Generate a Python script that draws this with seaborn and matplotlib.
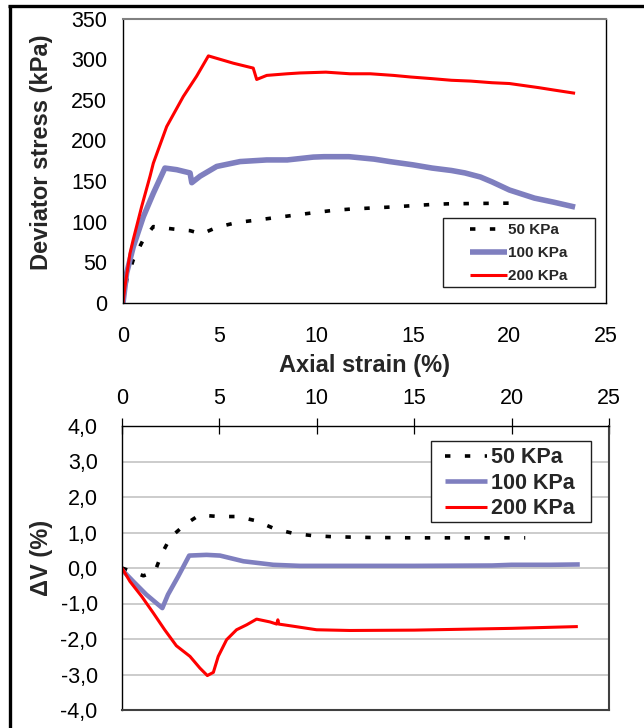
import numpy as np
import pandas as pd
import matplotlib
matplotlib.use("Agg")
import matplotlib.pyplot as plt
import seaborn as sns
from matplotlib.lines import Line2D
from matplotlib.patches import Rectangle
from matplotlib.ticker import FuncFormatter

# ---------------- data ----------------
labels = ["50 KPa", "100 KPa", "200 KPa"]

# Deviator stress vs axial strain
s50_x = [0, 0.19, 0.53, 1.05, 1.57, 2.6, 3.47, 4.07, 4.85, 5.88, 6.92, 7.87, 9.85, 10.9, 11.75, 13.8, 15.85, 16.8, 18.5, 20.7]
s50_y = [0, 28, 53, 78, 94, 91, 89, 85, 93, 99, 102, 105, 111, 114, 115.5, 118, 121, 122, 122.5, 123]

s100_x = [0, 0.19, 0.53, 1.05, 1.57, 2.17, 2.78, 3.47, 3.56, 3.99, 4.85, 6.06, 7.44, 8.5, 9.85, 10.4, 11.7, 13.0, 13.8, 15.0, 16.0, 17.0, 17.7, 18.5, 19.1, 20.0, 21.3, 22.3, 23.4]
s100_y = [0, 37, 69, 106, 135, 166, 164, 160, 148, 156, 168, 174, 176, 176, 179.5, 180, 180, 177, 174, 170, 166, 163, 160, 155, 149, 139, 129, 124, 118]

s200_x = [0, 0.1, 0.36, 0.53, 0.97, 1.4, 1.57, 2.26, 3.12, 3.81, 4.42, 5.71, 6.74, 6.92, 7.44, 8.5, 9.16, 10.5, 11.75, 12.8, 14.0, 14.9, 16.0, 17.0, 18.0, 19.1, 20.0, 20.6, 21.5, 22.3, 23.4]
s200_y = [0, 20, 61, 78, 119, 156, 172, 217, 254, 279, 304, 295, 289, 275, 280, 282, 283, 284, 282, 282, 280, 278, 276, 274, 273, 271, 270, 268, 265, 262, 258]

# Volumetric strain vs axial strain
v50_x = [0, 1.1, 1.69, 2.04, 2.5, 3.27, 3.97, 4.98, 5.94, 6.88, 7.86, 8.83, 9.82, 10.85, 12.7, 15.0, 18.0, 20.7]
v50_y = [0, -0.22, -0.1, 0.40, 0.87, 1.24, 1.49, 1.45, 1.45, 1.33, 1.10, 0.97, 0.91, 0.88, 0.86, 0.85, 0.85, 0.85]

v100_x = [0, 0.58, 1.25, 2.07, 2.36, 2.88, 3.45, 4.34, 5.03, 6.23, 7.77, 9.14, 11.7, 15.0, 19.0, 20.0, 22.0, 23.5]
v100_y = [-0.05, -0.38, -0.75, -1.13, -0.75, -0.24, 0.35, 0.37, 0.35, 0.19, 0.09, 0.06, 0.06, 0.06, 0.07, 0.09, 0.09, 0.1]

v200_x = [0, 0.41, 1.01, 1.61, 2.19, 2.79, 3.49, 4.0, 4.38, 4.69, 4.94, 5.37, 5.88, 6.4, 6.91, 7.6, 7.94, 8.0, 8.05, 8.79, 9.99, 11.7, 15.0, 18.0, 20.0, 23.4]
v200_y = [0, -0.38, -0.8, -1.27, -1.74, -2.19, -2.49, -2.82, -3.03, -2.94, -2.49, -2.02, -1.74, -1.60, -1.44, -1.52, -1.58, -1.46, -1.58, -1.64, -1.74, -1.76, -1.75, -1.72, -1.70, -1.65]

x_ticks = [0, 5, 10, 15, 20, 25]
top_yticks = [0, 50, 100, 150, 200, 250, 300, 350]
bot_yticks = [-4, -3, -2, -1, 0, 1, 2, 3, 4]

# ---------------- style ----------------
sns.set_style("white")
plt.rcParams["font.family"] = ["Liberation Sans", "DejaVu Sans"]
plt.rcParams["lines.solid_capstyle"] = "butt"

colors = ["#000000", "#7F7FBF", "#FF0000"]
black_ls = (0, (1.5, 4.0))

fig = plt.figure(figsize=(6.44, 7.28), dpi=100)
ax1 = fig.add_axes([123/644, 1-303/728, 483/644, 284.5/728])
ax2 = fig.add_axes([122/644, 1-710/728, 487/644, 284/728])

# ---------------- top chart ----------------
sns.lineplot(x=s50_x, y=s50_y, ax=ax1, color=colors[0], lw=2.6, linestyle=black_ls,
             sort=False, estimator=None, label=labels[0])
sns.lineplot(x=s100_x, y=s100_y, ax=ax1, color=colors[1], lw=4.0,
             sort=False, estimator=None, label=labels[1])
sns.lineplot(x=s200_x, y=s200_y, ax=ax1, color=colors[2], lw=2.2,
             sort=False, estimator=None, label=labels[2])

ax1.set_xlim(0, 25)
ax1.set_ylim(0, 350)
ax1.set_xticks(x_ticks)
ax1.set_yticks(top_yticks)
ax1.tick_params(axis="both", direction="inout", length=11, width=0.9, colors="black",
                labelsize=15.5)
ax1.tick_params(axis="y", pad=6)
ax1.tick_params(axis="x", pad=11)
ax1.set_xlabel("Axial strain (%)", fontsize=17, fontweight="bold", labelpad=5)
ax1.set_ylabel("Deviator stress (kPa)", fontsize=17, fontweight="bold")
ax1.yaxis.set_label_coords(-0.145, 0.53)
for side in ["left", "bottom", "right"]:
    ax1.spines[side].set_color("black")
    ax1.spines[side].set_linewidth(1.0)
ax1.spines["top"].set_color("#808080")
ax1.spines["top"].set_linewidth(1.5)

leg1 = ax1.legend(loc="center left", bbox_to_anchor=(0.7184, 0.1757), borderaxespad=0,
                  prop={"size": 11, "weight": "bold"}, handlelength=2.42, handletextpad=0.1,
                  labelspacing=0.58, borderpad=0.0, frameon=False)
leg1.set_zorder(6)
ax1.add_patch(Rectangle((0.6625, 0.0562), 0.3147, 0.2425, transform=ax1.transAxes,
                        facecolor="white", edgecolor="#202020", lw=1.0, zorder=5.5))

# ---------------- bottom chart ----------------
sns.lineplot(x=v50_x, y=v50_y, ax=ax2, color=colors[0], lw=2.6, linestyle=black_ls,
             sort=False, estimator=None, label=labels[0])
sns.lineplot(x=v100_x, y=v100_y, ax=ax2, color=colors[1], lw=3.3,
             sort=False, estimator=None, label=labels[1])
sns.lineplot(x=v200_x, y=v200_y, ax=ax2, color=colors[2], lw=2.2,
             sort=False, estimator=None, label=labels[2])

ax2.set_xlim(0, 25)
ax2.set_ylim(-4, 4)
ax2.set_xticks(x_ticks)
ax2.set_yticks(bot_yticks)
ax2.yaxis.set_major_formatter(FuncFormatter(lambda v, p: f"{v:.1f}".replace(".", ",").replace("-0,0", "0,0")))
ax2.xaxis.tick_top()
ax2.xaxis.set_label_position("top")
ax2.tick_params(axis="both", direction="inout", length=11, width=0.9, colors="black",
                labelsize=15.5)
ax2.tick_params(axis="y", pad=12)
ax2.tick_params(axis="x", pad=7)
ax2.set_xlabel("")
ax2.set_ylabel("ΔV (%)", fontsize=17, fontweight="bold")
ax2.yaxis.set_label_coords(-0.142, 0.535)
ax2.grid(axis="y", color="#C8C8C8", linewidth=1.3)
ax2.set_axisbelow(True)
for side in ["left", "top"]:
    ax2.spines[side].set_color("black")
    ax2.spines[side].set_linewidth(1.0)
for side in ["right", "bottom"]:
    ax2.spines[side].set_color("#404040")
    ax2.spines[side].set_linewidth(1.5)

leg2 = ax2.legend(loc="center left", bbox_to_anchor=(0.6632, 0.799), borderaxespad=0,
                  prop={"size": 15.5, "weight": "bold"}, handlelength=1.95, handletextpad=0.19,
                  labelspacing=0.21, borderpad=0.0, frameon=False)
leg2.set_zorder(6)
ax2.add_patch(Rectangle((0.6345, 0.662), 0.3285, 0.2852, transform=ax2.transAxes,
                        facecolor="white", edgecolor="#202020", lw=1.0, zorder=5.5))

# ---------------- outer frame ----------------
fig.add_artist(Line2D([8/644, 1.0], [1-5.5/728, 1-5.5/728], transform=fig.transFigure,
                      color="black", lw=2.4, solid_capstyle="butt"))
fig.add_artist(Line2D([9.5/644, 9.5/644], [0, 1-4.5/728], transform=fig.transFigure,
                      color="black", lw=2.4, solid_capstyle="butt"))

fig.savefig("out.png", dpi=100)
